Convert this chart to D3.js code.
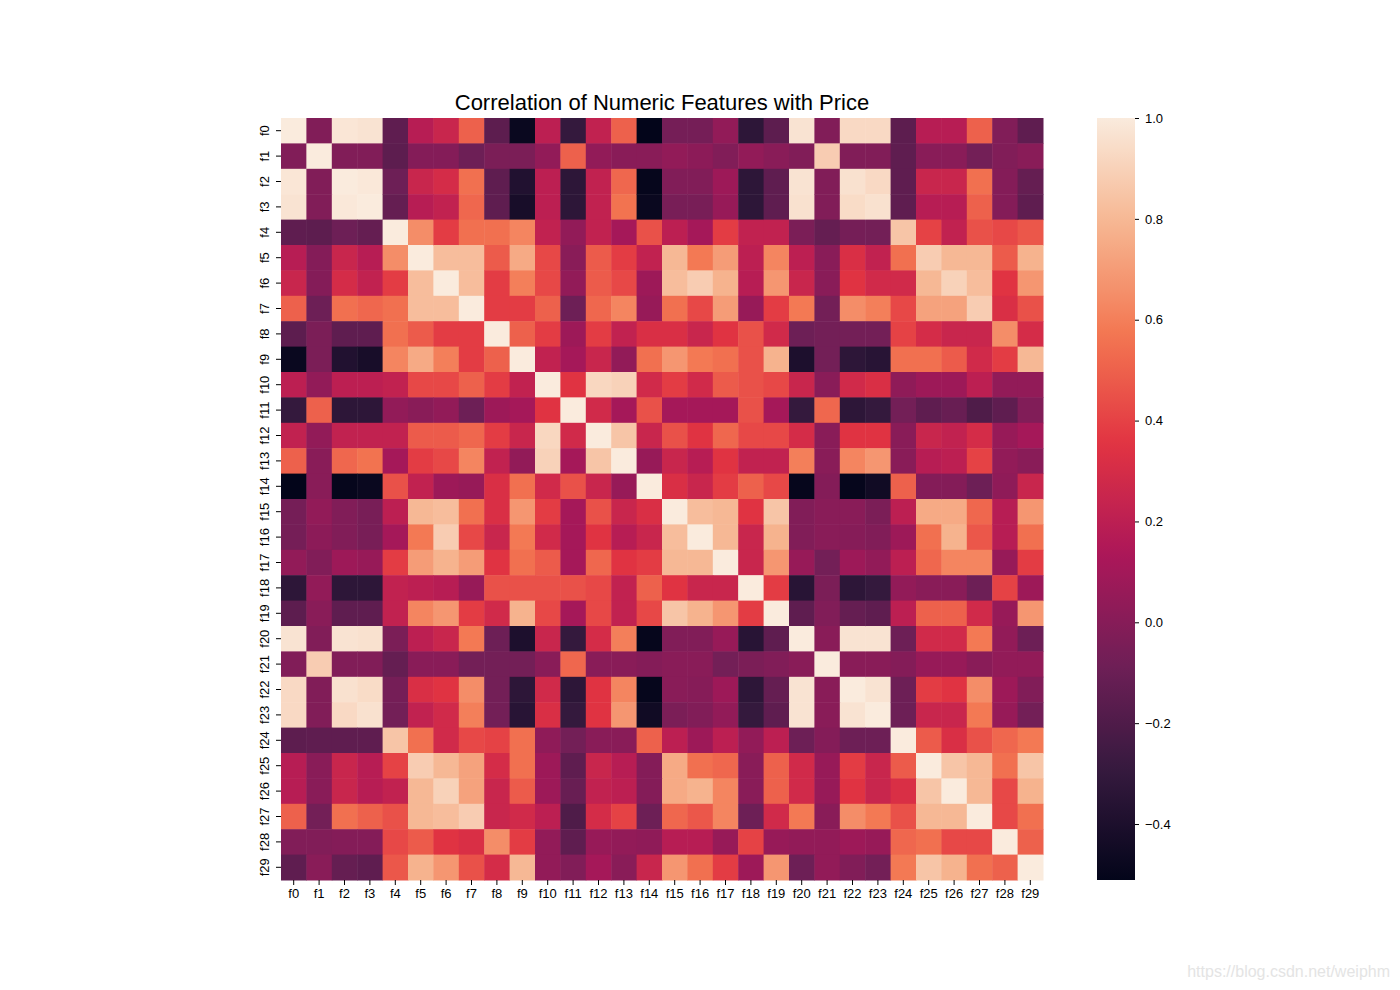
<!DOCTYPE html>
<html>
<head>
<meta charset="utf-8">
<script src="https://cdn.jsdelivr.net/npm/d3@7"></script>
<style>
  body { margin: 0; background: #fff; }
  svg text { font-family: "Liberation Sans", Arial, sans-serif; fill: #000; }
</style>
</head>
<body>
<div class="heatmap"></div>
<script>
// feature names on both axes
const features = d3.range(30).map((i) => "f" + i);

// lower triangle of the correlation matrix (row i holds columns 0..i)
const lowerRows = [
  [1.0],
  [-0.02, 1.0],
  [0.98, -0.02, 1.0],
  [0.97, -0.02, 0.99, 1.0],
  [-0.14, -0.15, -0.09, -0.12, 1.0],
  [0.18, -0.01, 0.25, 0.18, 0.65, 1.0],
  [0.25, -0.01, 0.3, 0.22, 0.38, 0.82, 1.0],
  [0.5, -0.09, 0.55, 0.52, 0.55, 0.82, 0.82, 1.0],
  [-0.15, -0.04, -0.14, -0.14, 0.55, 0.48, 0.38, 0.38, 1.0],
  [-0.48, -0.04, -0.38, -0.42, 0.62, 0.75, 0.6, 0.38, 0.5, 1.0],
  [0.2, 0.04, 0.2, 0.2, 0.22, 0.42, 0.42, 0.5, 0.38, 0.22, 1.0],
  [-0.3, 0.5, -0.33, -0.33, 0.04, 0.01, 0.04, -0.09, 0.08, 0.11, 0.35, 1.0],
  [0.22, 0.04, 0.22, 0.22, 0.22, 0.48, 0.48, 0.52, 0.38, 0.25, 0.92, 0.28, 1.0],
  [0.5, 0.01, 0.52, 0.56, 0.11, 0.38, 0.42, 0.62, 0.22, 0.04, 0.9, 0.11, 0.85, 1.0],
  [-0.51, 0.01, -0.5, -0.48, 0.45, 0.22, 0.08, 0.06, 0.32, 0.55, 0.28, 0.45, 0.25, 0.06, 1.0],
  [-0.06, 0.04, -0.02, -0.05, 0.2, 0.8, 0.82, 0.55, 0.32, 0.68, 0.38, 0.11, 0.45, 0.25, 0.32, 1.0],
  [-0.06, 0.02, -0.02, -0.05, 0.11, 0.58, 0.88, 0.42, 0.25, 0.58, 0.28, 0.11, 0.35, 0.18, 0.25, 0.82, 1.0],
  [0.04, -0.02, 0.08, 0.06, 0.38, 0.7, 0.78, 0.7, 0.35, 0.55, 0.48, 0.11, 0.52, 0.35, 0.38, 0.8, 0.8, 1.0],
  [-0.33, 0.04, -0.33, -0.33, 0.22, 0.2, 0.18, 0.06, 0.45, 0.45, 0.45, 0.45, 0.42, 0.22, 0.5, 0.35, 0.25, 0.25, 1.0],
  [-0.15, 0.01, -0.14, -0.14, 0.22, 0.62, 0.68, 0.38, 0.28, 0.78, 0.42, 0.11, 0.42, 0.22, 0.42, 0.85, 0.78, 0.68, 0.38, 1.0],
  [0.97, -0.02, 0.97, 0.96, -0.04, 0.2, 0.25, 0.58, -0.09, -0.4, 0.25, -0.3, 0.3, 0.6, -0.5, -0.02, -0.02, 0.06, -0.35, -0.14, 1.0],
  [-0.02, 0.88, -0.02, -0.02, -0.12, 0.01, 0.01, -0.07, -0.07, -0.07, 0.01, 0.52, 0.01, 0.01, -0.01, 0.01, 0.01, -0.07, -0.04, -0.02, 0.01, 1.0],
  [0.93, -0.02, 0.96, 0.94, -0.06, 0.32, 0.35, 0.65, -0.07, -0.33, 0.28, -0.33, 0.35, 0.62, -0.5, 0.01, 0.0, 0.08, -0.33, -0.12, 0.97, 0.01, 1.0],
  [0.93, -0.02, 0.93, 0.96, -0.07, 0.22, 0.28, 0.6, -0.07, -0.35, 0.32, -0.3, 0.35, 0.68, -0.45, -0.04, -0.02, 0.04, -0.3, -0.14, 0.97, 0.01, 0.97, 1.0],
  [-0.15, -0.14, -0.14, -0.14, 0.85, 0.55, 0.28, 0.42, 0.4, 0.55, 0.03, -0.07, 0.01, 0.01, 0.5, 0.2, 0.08, 0.2, 0.04, 0.2, -0.09, -0.01, -0.09, -0.09, 1.0],
  [0.18, 0.01, 0.25, 0.18, 0.4, 0.88, 0.8, 0.72, 0.3, 0.55, 0.08, -0.14, 0.25, 0.18, -0.01, 0.75, 0.55, 0.52, 0.01, 0.5, 0.28, 0.06, 0.38, 0.25, 0.48, 1.0],
  [0.18, 0.01, 0.25, 0.18, 0.22, 0.8, 0.9, 0.72, 0.25, 0.48, 0.08, -0.11, 0.22, 0.2, -0.01, 0.75, 0.78, 0.62, 0.01, 0.5, 0.28, 0.06, 0.35, 0.25, 0.32, 0.85, 1.0],
  [0.5, -0.07, 0.55, 0.5, 0.45, 0.8, 0.82, 0.88, 0.25, 0.28, 0.2, -0.2, 0.3, 0.4, -0.09, 0.52, 0.47, 0.62, -0.09, 0.28, 0.58, 0.01, 0.65, 0.58, 0.45, 0.8, 0.8, 1.0],
  [-0.02, -0.02, -0.01, -0.01, 0.42, 0.48, 0.35, 0.32, 0.65, 0.38, 0.04, -0.14, 0.06, 0.04, 0.03, 0.18, 0.18, 0.06, 0.4, 0.06, 0.04, 0.04, 0.08, 0.06, 0.52, 0.55, 0.42, 0.42, 1.0],
  [-0.14, 0.01, -0.12, -0.14, 0.47, 0.78, 0.68, 0.45, 0.3, 0.8, 0.04, -0.02, 0.11, 0.01, 0.25, 0.68, 0.55, 0.38, 0.08, 0.68, -0.09, 0.04, -0.02, -0.07, 0.58, 0.85, 0.78, 0.55, 0.5, 1.0],
];

// colour bar ticks and range
const colorTicks = [-0.4, -0.2, 0.0, 0.2, 0.4, 0.6, 0.8, 1.0];
const colorMin = -0.511;
const colorMax = 1.0;

// seaborn "rocket" sampled at a few points
const rocketStops = ["#03051a", "#35193e", "#701f57", "#ad1759", "#e13342", "#f37651", "#f6b48f", "#faebdd"];
const rocketPos = [0, 1 / 7, 2 / 7, 3 / 7, 4 / 7, 5 / 7, 6 / 7, 1];

const W = 1400, H = 990;
const plot = { left: 281, top: 118, size: 762 };
const bar = { left: 1097, width: 38 };

const rocket = d3.scaleLinear().domain(rocketPos).range(rocketStops).interpolate(d3.interpolateRgb);
const color = (v) => rocket((v - colorMin) / (colorMax - colorMin));

// mirror the lower triangle into cells
const cells = [];
lowerRows.forEach((row, i) => {
  row.forEach((v, j) => {
    cells.push({ row: features[i], col: features[j], value: v });
    if (i !== j) cells.push({ row: features[j], col: features[i], value: v });
  });
});

const svg = d3.select(".heatmap").append("svg").attr("width", W).attr("height", H);

svg.append("text")
  .attr("x", plot.left + plot.size / 2)
  .attr("y", 110)
  .attr("text-anchor", "middle")
  .style("font-size", "22px")
  .text("Correlation of Numeric Features with Price");

const x = d3.scaleBand().domain(features).range([plot.left, plot.left + plot.size]);
const y = d3.scaleBand().domain(features).range([plot.top, plot.top + plot.size]);

svg.append("g")
  .selectAll("rect")
  .data(cells)
  .enter()
  .append("rect")
  .attr("x", (d) => x(d.col))
  .attr("y", (d) => y(d.row))
  .attr("width", x.bandwidth() + 0.5)
  .attr("height", y.bandwidth() + 0.5)
  .attr("fill", (d) => color(d.value));

// x axis
const gx = svg.append("g")
  .attr("transform", `translate(0,${plot.top + plot.size})`)
  .call(d3.axisBottom(x).tickSize(5).tickPadding(4));
gx.select(".domain").remove();
gx.selectAll("text").style("font-size", "13px");

// y axis, labels turned on their side
const gy = svg.append("g")
  .attr("transform", `translate(${plot.left},0)`)
  .call(d3.axisLeft(y).tickSize(5).tickPadding(4));
gy.select(".domain").remove();
gy.selectAll("text")
  .style("font-size", "13px")
  .attr("text-anchor", "middle")
  .attr("x", 0)
  .attr("dy", 0)
  .attr("transform", "translate(-17,0) rotate(-90)")
  .attr("dominant-baseline", "central");

// colour bar
const defs = svg.append("defs");
const grad = defs.append("linearGradient")
  .attr("id", "rocketGrad")
  .attr("x1", 0).attr("y1", 1).attr("x2", 0).attr("y2", 0);
d3.range(0, 1.0001, 0.02).forEach((t) => {
  grad.append("stop").attr("offset", t).attr("stop-color", rocket(t));
});
svg.append("rect")
  .attr("x", bar.left)
  .attr("y", plot.top)
  .attr("width", bar.width)
  .attr("height", plot.size)
  .attr("fill", "url(#rocketGrad)");

const cScale = d3.scaleLinear().domain([colorMin, colorMax]).range([plot.top + plot.size, plot.top]);
const gc = svg.append("g")
  .attr("transform", `translate(${bar.left + bar.width},0)`)
  .call(d3.axisRight(cScale).tickValues(colorTicks).tickSize(4).tickPadding(6)
    .tickFormat((d) => d3.format(".1f")(d).replace("-", "\u2212")));
gc.select(".domain").remove();
gc.selectAll("text").style("font-size", "13px");

// watermark
svg.append("text")
  .attr("x", 1390)
  .attr("y", 977)
  .attr("text-anchor", "end")
  .style("font-size", "16px")
  .style("fill", "#e4e4e4")
  .text("https://blog.csdn.net/weiphm");
</script>
</body>
</html>
